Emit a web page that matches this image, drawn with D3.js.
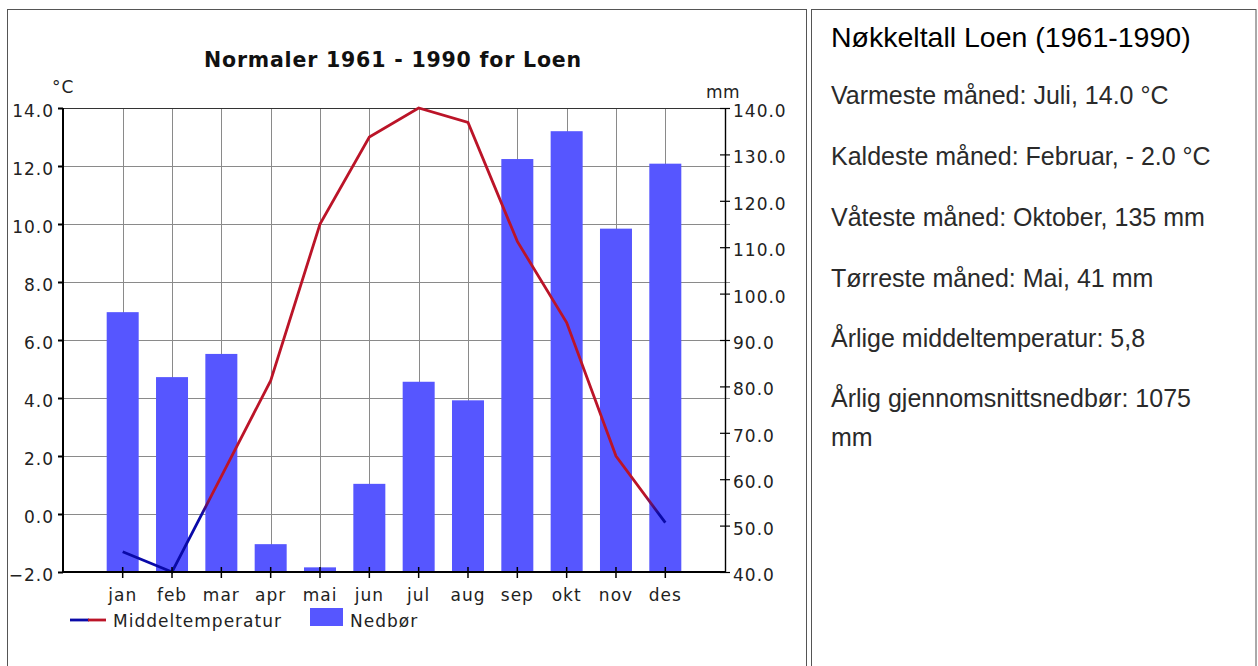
<!DOCTYPE html>
<html>
<head>
<meta charset="utf-8">
<script src="https://cdn.jsdelivr.net/npm/d3@7/dist/d3.min.js"></script>
<style>
  html, body { margin: 0; padding: 0; background: #fff; }
  svg { display: block; }
</style>
</head>
<body>
<svg id="chart" width="1258" height="666"></svg>
<script>
// ---- data ----
const months = ["jan","feb","mar","apr","mai","jun","jul","aug","sep","okt","nov","des"];
const temperature = [-1.3, -2.0, 1.3, 4.6, 10.0, 13.0, 14.0, 13.5, 9.4, 6.6, 2.0, -0.3];
const precipitation = [96, 82, 87, 46, 41, 59, 81, 77, 129, 135, 114, 128];
const tempTicks = [-2, 0, 2, 4, 6, 8, 10, 12, 14];
const precipTicks = [40, 50, 60, 70, 80, 90, 100, 110, 120, 130, 140];
const chartTitle = "Normaler 1961 - 1990 for Loen";
const legendLabels = ["Middeltemperatur", "Nedbør"];
const panelTitle = "Nøkkeltall Loen (1961-1990)";
const panelLines = [
  ["Varmeste måned:", " Juli, 14.0 °C"],
  ["Kaldeste måned:", " Februar, - 2.0 °C"],
  ["Våteste måned:", " Oktober, 135 mm"],
  ["Tørreste måned:", " Mai, 41 mm"],
  ["Årlige middeltemperatur:", " 5,8"],
  ["Årlig gjennomsnittsnedbør:", " 1075"]
];
const panelWrap = "mm";

// ---- layout ----
const svg = d3.select("#chart");
const L = 63, R = 725, T = 108, B = 572;
const chartFont = "'DejaVu Sans', Verdana, sans-serif";
const FS = 17, LS = 1.0;
const RED = "#bb1428", BLUE = "#0a0aa8", BAR = "#5656ff";

// cell borders
svg.append("rect").attr("x", 7.5).attr("y", 9.5).attr("width", 799).attr("height", 700)
  .attr("fill", "none").attr("stroke", "#555");
svg.append("rect").attr("x", 811.5).attr("y", 9.5).attr("width", 444.5).attr("height", 700)
  .attr("fill", "none").attr("stroke", "#555");

const x = d3.scaleBand().domain(months).range([L, R]).paddingInner(0).paddingOuter(0.71);
const yT = d3.scaleLinear().domain([-2, 14]).range([B, T]);
const yP = d3.scaleLinear().domain([40, 140]).range([B, T]);
const cx = m => x(m) + x.bandwidth() / 2;

// gridlines
const g = svg.append("g");
g.selectAll("line.hg").data(tempTicks.filter(t => t !== 14 && t !== -2)).join("line")
  .attr("x1", L).attr("x2", R + 5).attr("y1", d => yT(d) + 0.5).attr("y2", d => yT(d) + 0.5)
  .attr("stroke", "#8a8a8a").attr("stroke-width", 1);
g.selectAll("line.vg").data(months).join("line")
  .attr("x1", d => Math.round(cx(d)) + 0.5).attr("x2", d => Math.round(cx(d)) + 0.5)
  .attr("y1", T).attr("y2", B)
  .attr("stroke", "#8a8a8a").attr("stroke-width", 1);
// top line
g.append("line").attr("x1", L).attr("x2", R).attr("y1", yT(14) + 0.5).attr("y2", yT(14) + 0.5)
  .attr("stroke", "#333").attr("stroke-width", 1.2);

// bars
const barW = 32;
svg.append("g").selectAll("rect").data(precipitation).join("rect")
  .attr("x", (d, i) => cx(months[i]) - barW / 2)
  .attr("y", d => yP(d))
  .attr("width", barW)
  .attr("height", d => yP(40) - yP(d))
  .attr("fill", BAR);

// temperature line with blue below zero, red above
const defs = svg.append("defs");
const grad = defs.append("linearGradient").attr("id", "tgrad")
  .attr("gradientUnits", "userSpaceOnUse")
  .attr("x1", 0).attr("x2", 0).attr("y1", yT(-2)).attr("y2", yT(14));
const z = (yT(-2) - yT(0)) / (yT(-2) - yT(14));
grad.append("stop").attr("offset", 0).attr("stop-color", BLUE);
grad.append("stop").attr("offset", z).attr("stop-color", BLUE);
grad.append("stop").attr("offset", z + 0.04).attr("stop-color", RED);
grad.append("stop").attr("offset", 1).attr("stop-color", RED);

const line = d3.line().x((d, i) => cx(months[i])).y(d => yT(d));
svg.append("path").datum(temperature).attr("d", line)
  .attr("fill", "none").attr("stroke", "url(#tgrad)").attr("stroke-width", 2.8)
  .attr("stroke-linejoin", "miter");

// axes
const axisStyle = sel => {
  sel.selectAll("text").attr("font-family", chartFont).attr("font-size", FS)
    .attr("letter-spacing", LS).attr("fill", "#222");
  sel.selectAll(".domain").remove();
};
const leftAxis = svg.append("g").attr("transform", `translate(${L},0)`)
  .call(d3.axisLeft(yT).tickValues(tempTicks).tickFormat(d3.format(".1f")).tickSize(5).tickPadding(4));
axisStyle(leftAxis);
leftAxis.selectAll("line").attr("stroke", "#000").attr("stroke-width", 2);
leftAxis.selectAll("text").attr("dy", "0.5em");

const rightAxis = svg.append("g").attr("transform", `translate(${R},0)`)
  .call(d3.axisRight(yP).tickValues(precipTicks).tickFormat(d3.format(".1f")).tickSize(5).tickPadding(3));
axisStyle(rightAxis);
rightAxis.selectAll("line").attr("x1", -5).attr("stroke", "#000").attr("stroke-width", 1.2);
rightAxis.selectAll("text").attr("dy", "0.5em");

const bottomAxis = svg.append("g").attr("transform", `translate(0,${B})`)
  .call(d3.axisBottom(x).tickSize(6).tickPadding(10));
axisStyle(bottomAxis);
bottomAxis.selectAll("line").attr("y1", -5).attr("stroke", "#000").attr("stroke-width", 1.5);
bottomAxis.selectAll("text").attr("dy", "0.75em");

// axis lines
svg.append("line").attr("x1", L).attr("x2", L).attr("y1", T).attr("y2", B + 1)
  .attr("stroke", "#000").attr("stroke-width", 2);
svg.append("line").attr("x1", R + 0.5).attr("x2", R + 0.5).attr("y1", T).attr("y2", B + 1)
  .attr("stroke", "#000").attr("stroke-width", 1.4);
svg.append("line").attr("x1", L).attr("x2", R + 1).attr("y1", B).attr("y2", B)
  .attr("stroke", "#000").attr("stroke-width", 2);

// units
svg.append("text").attr("x", 52).attr("y", 93).text("°C")
  .attr("font-family", chartFont).attr("font-size", FS).attr("letter-spacing", LS).attr("fill", "#222");
svg.append("text").attr("x", 706).attr("y", 98).text("mm")
  .attr("font-family", chartFont).attr("font-size", FS).attr("letter-spacing", 0.5).attr("fill", "#222");

// title
svg.append("text").attr("x", (L + R) / 2 - 1).attr("y", 67).attr("text-anchor", "middle")
  .text(chartTitle).attr("font-family", chartFont).attr("font-size", 20.5).attr("font-weight", "bold")
  .attr("letter-spacing", 0.8).attr("fill", "#111");

// legend
const lg = svg.append("g");
lg.append("line").attr("x1", 70).attr("x2", 89).attr("y1", 620).attr("y2", 620)
  .attr("stroke", BLUE).attr("stroke-width", 2.8);
lg.append("line").attr("x1", 88).attr("x2", 106).attr("y1", 620).attr("y2", 620)
  .attr("stroke", RED).attr("stroke-width", 2.8);
lg.append("text").attr("x", 113).attr("y", 627).text(legendLabels[0])
  .attr("font-family", chartFont).attr("font-size", FS).attr("letter-spacing", LS).attr("fill", "#222");
lg.append("rect").attr("x", 310).attr("y", 608).attr("width", 33).attr("height", 18).attr("fill", BAR);
lg.append("text").attr("x", 350).attr("y", 627).text(legendLabels[1])
  .attr("font-family", chartFont).attr("font-size", FS).attr("letter-spacing", LS).attr("fill", "#222");

// right panel
const pFont = "'Liberation Sans', Arial, Helvetica, sans-serif";
svg.append("text").attr("x", 831).attr("y", 47).text(panelTitle)
  .attr("font-family", pFont).attr("font-size", 28.5).attr("fill", "#000");
const baselines = [104, 165, 226, 287, 347, 407];
panelLines.forEach((pl, i) => {
  const t = svg.append("text").attr("x", 831).attr("y", baselines[i])
    .attr("font-family", pFont).attr("font-size", 25).attr("fill", "#2a2a2a");
  t.append("tspan").text(pl[0]);
  t.append("tspan").text(pl[1]);
});
svg.append("text").attr("x", 831).attr("y", 446).text(panelWrap)
  .attr("font-family", pFont).attr("font-size", 25).attr("fill", "#2a2a2a");
</script>
</body>
</html>
